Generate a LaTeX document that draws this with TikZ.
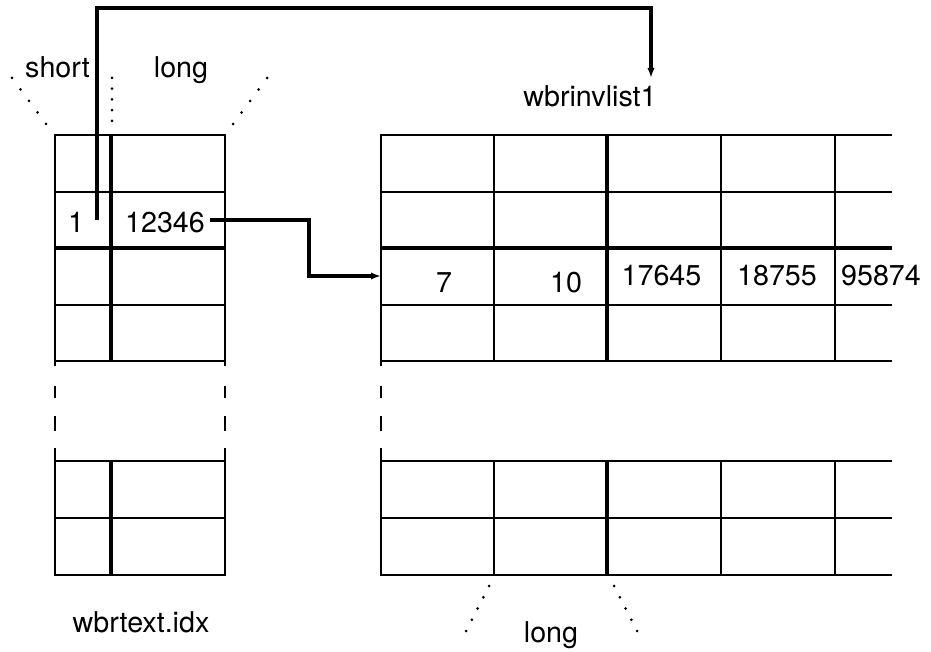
\documentclass[tikz,border=0pt]{standalone}
\usepackage{fontspec}
\setmainfont{TeX Gyre Heros}
\usetikzlibrary{arrows.meta,calc}
\begin{document}
\begin{tikzpicture}[x=0.75pt,y=-0.75pt,
  gl/.style={line width=2pt},
  gk/.style={line width=2.5pt},
  arr/.style={line width=2.4pt,-{Latex[length=7.5pt,width=5.5pt]}},
  lbl/.style={anchor=base,inner sep=0pt,font=\fontsize{21.5}{25}\selectfont},
  dotfill/.style={fill=black}]
\useasboundingbox (0,0) rectangle (931,652);
% ---------- left table (upper part)
\draw[gl] (55,366) -- (55,135) -- (225,135) -- (225,366);
\foreach \y in {192,305,361} \draw[gl] (55,\y) -- (225,\y);
\draw[gk] (55,248) -- (225,248);
\draw[gk] (111,135) -- (111,361);
% ---------- broken parts
\foreach \x in {55,225,381} {
  \draw[gl] (\x,386) -- (\x,398);
  \draw[gl] (\x,416) -- (\x,431);
}
% ---------- left table (lower part)
\draw[gl] (55,448) -- (55,575) -- (225,575) -- (225,448);
\foreach \y in {461,518} \draw[gl] (55,\y) -- (225,\y);
\draw[gk] (111,461) -- (111,575);
% ---------- right table (upper part)
\draw[gl] (381,366) -- (381,135) -- (892,135);
\foreach \y in {192,305,361} \draw[gl] (381,\y) -- (892,\y);
\draw[gk] (381,248) -- (892,248);
\foreach \x in {494,721,835} \draw[gl] (\x,135) -- (\x,361);
\draw[gk] (607,135) -- (607,361);
% ---------- right table (lower part)
\draw[gl] (381,448) -- (381,575) -- (892,575);
\foreach \y in {461,518} \draw[gl] (381,\y) -- (892,\y);
\foreach \x in {494,721,835} \draw[gl] (\x,461) -- (\x,575);
\draw[gk] (607,461) -- (607,575);
% ---------- texts
\node[lbl] (short) at (57.5,78) {short};
\node[lbl] (longtop) at (181,78) {long};
\node[lbl] (inv) at (590,107) {wbrinvlist1};
\node[lbl] (one) at (76,233) {1};
\node[lbl] (ptr) at (165,233) {12346};
\node[lbl] (seven) at (444,292) {7};
\node[lbl] (ten) at (566,292) {10};
\node[lbl] (na) at (661.5,286) {17645};
\node[lbl] (nb) at (777,286) {18755};
\node[lbl] (nc) at (881,286) {95874};
\node[lbl] (idx) at (141,632) {wbrtext.idx};
\node[lbl] (longbot) at (551,642) {long};
% ---------- dotted guides
\foreach \t in {0,...,4} {
  \fill[dotfill] ($(12,78)!\t/4!(46,124)$) circle (1.5);
  \fill[dotfill] ($(112,78)!\t/4!(112,121)$) circle (1.5);
  \fill[dotfill] ($(267,78)!\t/4!(233,124)$) circle (1.5);
  \fill[dotfill] ($(489,586)!\t/4!(466,631)$) circle (1.5);
  \fill[dotfill] ($(614,586)!\t/4!(637,631)$) circle (1.5);
}
% ---------- pointers
\coordinate (pstart) at (210,220);
\coordinate (pbend) at (309,248);
\coordinate (pend) at (381,276);
\draw[arr] (pstart) -| (pbend) |- (pend);
\coordinate (qstart) at (97,220);
\coordinate (qend) at (651,78);
\draw[arr] (qstart) -- ++(0,-212) -| (qend);
\end{tikzpicture}
\end{document}
